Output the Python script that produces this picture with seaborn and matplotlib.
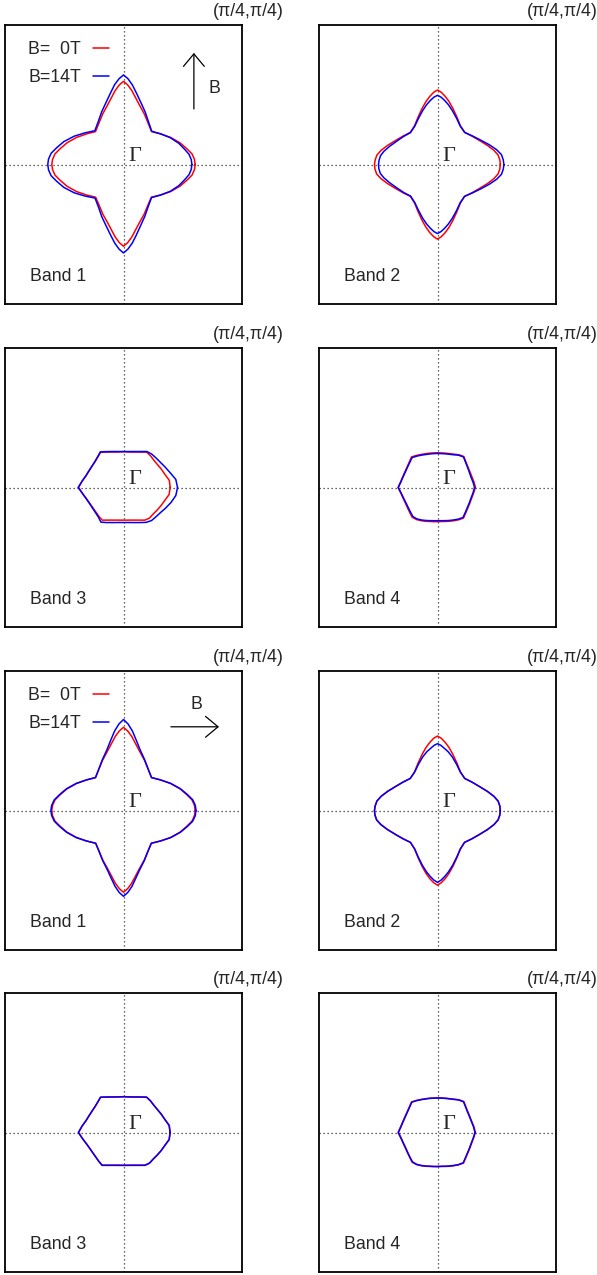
import numpy as np
import pandas as pd
import matplotlib
matplotlib.use('Agg')
import matplotlib.pyplot as plt
import seaborn as sns

# polar sampling angles (degrees); the star-shaped bands 1-2 are sampled densely near the lobe tips
angles_star = [0.0, 3.5, 7.5, 12.0, 18.0, 26.0, 35.0, 45.0, 55.0, 64.0, 72.0, 78.0, 82.5, 86.5,
               90.0, 93.5, 97.5, 102.0, 108.0, 116.0, 125.0, 135.0, 145.0, 154.0, 162.0, 168.0, 172.5, 176.5,
               180.0, 183.5, 187.5, 192.0, 198.0, 206.0, 215.0, 225.0, 235.0, 244.0, 252.0, 258.0, 262.5, 266.5,
               270.0, 273.5, 277.5, 282.0, 288.0, 296.0, 305.0, 315.0, 325.0, 334.0, 342.0, 348.0, 352.5, 356.5]
angles_hex = [0.0, 7.5, 15.0, 22.5, 30.0, 37.5, 45.0, 52.5, 60.0, 67.5, 75.0, 82.5,
              90.0, 97.5, 105.0, 112.5, 120.0, 127.5, 135.0, 142.5, 150.0, 157.5, 165.0, 172.5,
              180.0, 187.5, 195.0, 202.5, 210.0, 217.5, 225.0, 232.5, 240.0, 247.5, 255.0, 262.5,
              270.0, 277.5, 285.0, 292.5, 300.0, 307.5, 315.0, 322.5, 330.0, 337.5, 345.0, 352.5]

# contour radius at each angle, in units of pi/4
band1_0T = [0.605, 0.600, 0.583, 0.546, 0.502, 0.442, 0.382, 0.334, 0.362, 0.402, 0.444, 0.490, 0.535, 0.572,
            0.596, 0.572, 0.535, 0.490, 0.444, 0.402, 0.362, 0.334, 0.382, 0.442, 0.502, 0.546, 0.583, 0.600,
            0.605, 0.600, 0.583, 0.546, 0.502, 0.442, 0.381, 0.332, 0.358, 0.397, 0.437, 0.482, 0.526, 0.562,
            0.586, 0.562, 0.526, 0.482, 0.437, 0.397, 0.358, 0.332, 0.381, 0.442, 0.502, 0.546, 0.583, 0.600]
band1_14T_up = [0.577, 0.573, 0.558, 0.527, 0.491, 0.439, 0.383, 0.337, 0.370, 0.418, 0.470, 0.524, 0.575, 0.616,
                0.642, 0.616, 0.577, 0.525, 0.471, 0.420, 0.373, 0.342, 0.396, 0.463, 0.530, 0.577, 0.616, 0.634,
                0.639, 0.634, 0.616, 0.577, 0.530, 0.463, 0.395, 0.340, 0.370, 0.417, 0.467, 0.519, 0.568, 0.608,
                0.634, 0.608, 0.568, 0.518, 0.463, 0.412, 0.365, 0.335, 0.382, 0.439, 0.491, 0.527, 0.558, 0.573]
band1_14T_right = [0.612, 0.607, 0.589, 0.551, 0.505, 0.443, 0.382, 0.334, 0.363, 0.406, 0.456, 0.516, 0.575, 0.622,
                   0.652, 0.622, 0.575, 0.516, 0.456, 0.406, 0.363, 0.334, 0.382, 0.443, 0.505, 0.551, 0.589, 0.607,
                   0.613, 0.607, 0.589, 0.551, 0.505, 0.443, 0.381, 0.332, 0.359, 0.400, 0.445, 0.497, 0.548, 0.589,
                   0.615, 0.589, 0.548, 0.497, 0.445, 0.400, 0.359, 0.332, 0.381, 0.443, 0.505, 0.551, 0.589, 0.607]

band2_0T = [0.530, 0.527, 0.516, 0.487, 0.443, 0.393, 0.355, 0.325, 0.338, 0.376, 0.422, 0.463, 0.493, 0.519,
            0.534, 0.519, 0.493, 0.463, 0.422, 0.376, 0.338, 0.325, 0.355, 0.393, 0.443, 0.487, 0.516, 0.527,
            0.532, 0.529, 0.518, 0.488, 0.443, 0.393, 0.354, 0.323, 0.337, 0.375, 0.421, 0.462, 0.493, 0.519,
            0.535, 0.519, 0.493, 0.462, 0.421, 0.375, 0.337, 0.323, 0.354, 0.393, 0.443, 0.487, 0.516, 0.527]
band2_14T_up = [0.560, 0.556, 0.544, 0.510, 0.459, 0.402, 0.358, 0.325, 0.335, 0.368, 0.406, 0.439, 0.463, 0.484,
                0.496, 0.484, 0.463, 0.439, 0.406, 0.367, 0.335, 0.323, 0.350, 0.382, 0.424, 0.461, 0.485, 0.494,
                0.498, 0.496, 0.487, 0.462, 0.424, 0.382, 0.349, 0.321, 0.334, 0.366, 0.405, 0.437, 0.461, 0.482,
                0.495, 0.482, 0.461, 0.437, 0.405, 0.367, 0.334, 0.323, 0.357, 0.402, 0.459, 0.510, 0.544, 0.556]
band2_14T_right = [0.530, 0.527, 0.516, 0.487, 0.443, 0.393, 0.355, 0.325, 0.336, 0.368, 0.404, 0.431, 0.449, 0.468,
                   0.479, 0.468, 0.449, 0.431, 0.404, 0.368, 0.336, 0.325, 0.355, 0.393, 0.443, 0.487, 0.516, 0.527,
                   0.532, 0.529, 0.518, 0.488, 0.443, 0.393, 0.354, 0.323, 0.336, 0.371, 0.413, 0.449, 0.476, 0.500,
                   0.515, 0.500, 0.476, 0.449, 0.413, 0.371, 0.336, 0.323, 0.354, 0.393, 0.443, 0.487, 0.516, 0.527]

band3_0T = [0.394, 0.390, 0.362, 0.345, 0.330, 0.322, 0.322, 0.320, 0.293, 0.275, 0.263, 0.257,
            0.256, 0.257, 0.263, 0.275, 0.293, 0.318, 0.307, 0.303, 0.306, 0.314, 0.327, 0.352,
            0.379, 0.347, 0.321, 0.305, 0.296, 0.292, 0.293, 0.295, 0.270, 0.253, 0.242, 0.236,
            0.234, 0.236, 0.242, 0.253, 0.270, 0.295, 0.310, 0.314, 0.326, 0.342, 0.360, 0.388]
band3_14T_up = [0.456, 0.445, 0.408, 0.381, 0.360, 0.347, 0.338, 0.325, 0.298, 0.279, 0.267, 0.260,
                0.258, 0.260, 0.267, 0.279, 0.297, 0.322, 0.310, 0.305, 0.307, 0.315, 0.328, 0.352,
                0.383, 0.347, 0.323, 0.308, 0.300, 0.297, 0.300, 0.313, 0.290, 0.272, 0.260, 0.253,
                0.251, 0.253, 0.260, 0.272, 0.290, 0.315, 0.335, 0.345, 0.360, 0.385, 0.415, 0.445]
band3_14T_right = [0.393, 0.388, 0.361, 0.344, 0.330, 0.322, 0.321, 0.319, 0.294, 0.276, 0.264, 0.258,
                   0.257, 0.258, 0.264, 0.276, 0.294, 0.319, 0.308, 0.304, 0.307, 0.315, 0.328, 0.353,
                   0.381, 0.348, 0.322, 0.306, 0.297, 0.293, 0.294, 0.297, 0.272, 0.255, 0.244, 0.238,
                   0.236, 0.238, 0.244, 0.255, 0.272, 0.297, 0.311, 0.315, 0.327, 0.343, 0.361, 0.389]

band4_0T = [0.320, 0.310, 0.300, 0.296, 0.296, 0.302, 0.314, 0.296, 0.276, 0.263, 0.255, 0.250,
            0.249, 0.250, 0.255, 0.262, 0.274, 0.290, 0.310, 0.300, 0.296, 0.297, 0.303, 0.314,
            0.333, 0.312, 0.300, 0.293, 0.292, 0.295, 0.302, 0.290, 0.275, 0.262, 0.252, 0.247,
            0.245, 0.246, 0.252, 0.262, 0.275, 0.292, 0.310, 0.300, 0.295, 0.295, 0.298, 0.307]
band4_14T_up = [0.313, 0.302, 0.292, 0.290, 0.292, 0.298, 0.310, 0.292, 0.271, 0.258, 0.250, 0.245,
                0.244, 0.245, 0.249, 0.256, 0.268, 0.284, 0.303, 0.295, 0.292, 0.293, 0.300, 0.311,
                0.331, 0.309, 0.296, 0.288, 0.286, 0.288, 0.294, 0.284, 0.269, 0.256, 0.246, 0.240,
                0.238, 0.240, 0.246, 0.256, 0.269, 0.286, 0.304, 0.295, 0.290, 0.290, 0.293, 0.302]
band4_14T_right = [0.316, 0.307, 0.297, 0.293, 0.293, 0.299, 0.311, 0.294, 0.274, 0.261, 0.253, 0.248,
                   0.247, 0.248, 0.253, 0.260, 0.272, 0.288, 0.307, 0.297, 0.293, 0.294, 0.300, 0.311,
                   0.330, 0.309, 0.297, 0.290, 0.289, 0.292, 0.298, 0.288, 0.273, 0.260, 0.250, 0.245,
                   0.243, 0.244, 0.250, 0.260, 0.273, 0.290, 0.307, 0.297, 0.292, 0.292, 0.295, 0.304]

field_labels = ['B=  0T', 'B=14T']
band_names = ['Band 1', 'Band 2', 'Band 3', 'Band 4']
corner_label = '(\u03c0/4,\u03c0/4)'

sns.set_style('white')
plt.rcParams['font.family'] = ['Liberation Sans', 'DejaVu Sans']

W, H = 597, 1275
fig = plt.figure(figsize=(W / 100, H / 100), dpi=100)

col_left = [5, 319]
row_top = [25, 348, 671, 993]
box_w, box_h = 237, 279

panels = [
    (angles_star, band1_0T, band1_14T_up), (angles_star, band2_0T, band2_14T_up),
    (angles_hex, band3_0T, band3_14T_up), (angles_hex, band4_0T, band4_14T_up),
    (angles_star, band1_0T, band1_14T_right), (angles_star, band2_0T, band2_14T_right),
    (angles_hex, band3_0T, band3_14T_right), (angles_hex, band4_0T, band4_14T_right),
]

for i, (ang, r0, r14) in enumerate(panels):
    row, col = divmod(i, 2)
    ax = fig.add_axes([col_left[col] / W, 1 - (row_top[row] + box_h) / H, box_w / W, box_h / H])

    th = np.deg2rad(np.array(ang + [ang[0]]))
    frames = []
    for lab, r in zip(field_labels, (r0, r14)):
        rr = np.array(r + [r[0]])
        frames.append(pd.DataFrame({'kx': rr * np.cos(th), 'ky': rr * np.sin(th), 'field': lab}))
    df = pd.concat(frames, ignore_index=True)

    ax.axhline(0, color='#333333', lw=0.9, ls=(0, (1, 2.2)), zorder=1)
    ax.axvline(0, color='#333333', lw=0.9, ls=(0, (1, 2.2)), zorder=1)

    show_leg = (i % 4 == 0)
    sns.lineplot(data=df, x='kx', y='ky', hue='field', hue_order=field_labels,
                 palette=['#ff0000', '#0000ff'], sort=False, estimator=None,
                 lw=1.1, ax=ax, legend=show_leg, zorder=3)

    ax.set_xlim(-1, 1)
    ax.set_ylim(-1, 1)
    ax.set_xticks([])
    ax.set_yticks([])
    ax.set_xlabel('')
    ax.set_ylabel('')
    for s in ax.spines.values():
        s.set_color('black')
        s.set_linewidth(1.3)

    ax.text(0.546, 0.528, '\u0393', transform=ax.transAxes, ha='center', va='center',
            fontsize=16, family=['Liberation Serif', 'DejaVu Serif'])
    ax.text(0.105, 0.099, band_names[i % 4], transform=ax.transAxes, ha='left', va='center',
            fontsize=12.8)
    ax.text(1.025, 1.048, corner_label, transform=ax.transAxes, ha='center', va='center',
            fontsize=12.8, clip_on=False)

    if show_leg:
        ax.legend(loc='upper left', bbox_to_anchor=(0.098, 0.943), frameon=False,
                  markerfirst=False, handlelength=0.95, handletextpad=0.65,
                  labelspacing=0.64, fontsize=12.8, borderpad=0, borderaxespad=0,
                  title=None)

    arrow = dict(arrowstyle='->,head_length=0.9,head_width=0.75', color='black', lw=0.9,
                 shrinkA=0, shrinkB=0, mutation_scale=10)
    if i == 0:
        ax.annotate('', xy=(0.797, 0.90), xytext=(0.797, 0.699), xycoords='axes fraction',
                    arrowprops=arrow)
        ax.text(0.882, 0.774, 'B', transform=ax.transAxes, ha='center', va='center',
                fontsize=12.8)
    if i == 4:
        ax.annotate('', xy=(0.903, 0.80), xytext=(0.70, 0.80), xycoords='axes fraction',
                    arrowprops=arrow)
        ax.text(0.806, 0.879, 'B', transform=ax.transAxes, ha='center', va='center',
                fontsize=12.8)

fig.savefig('out.png', dpi=100)
